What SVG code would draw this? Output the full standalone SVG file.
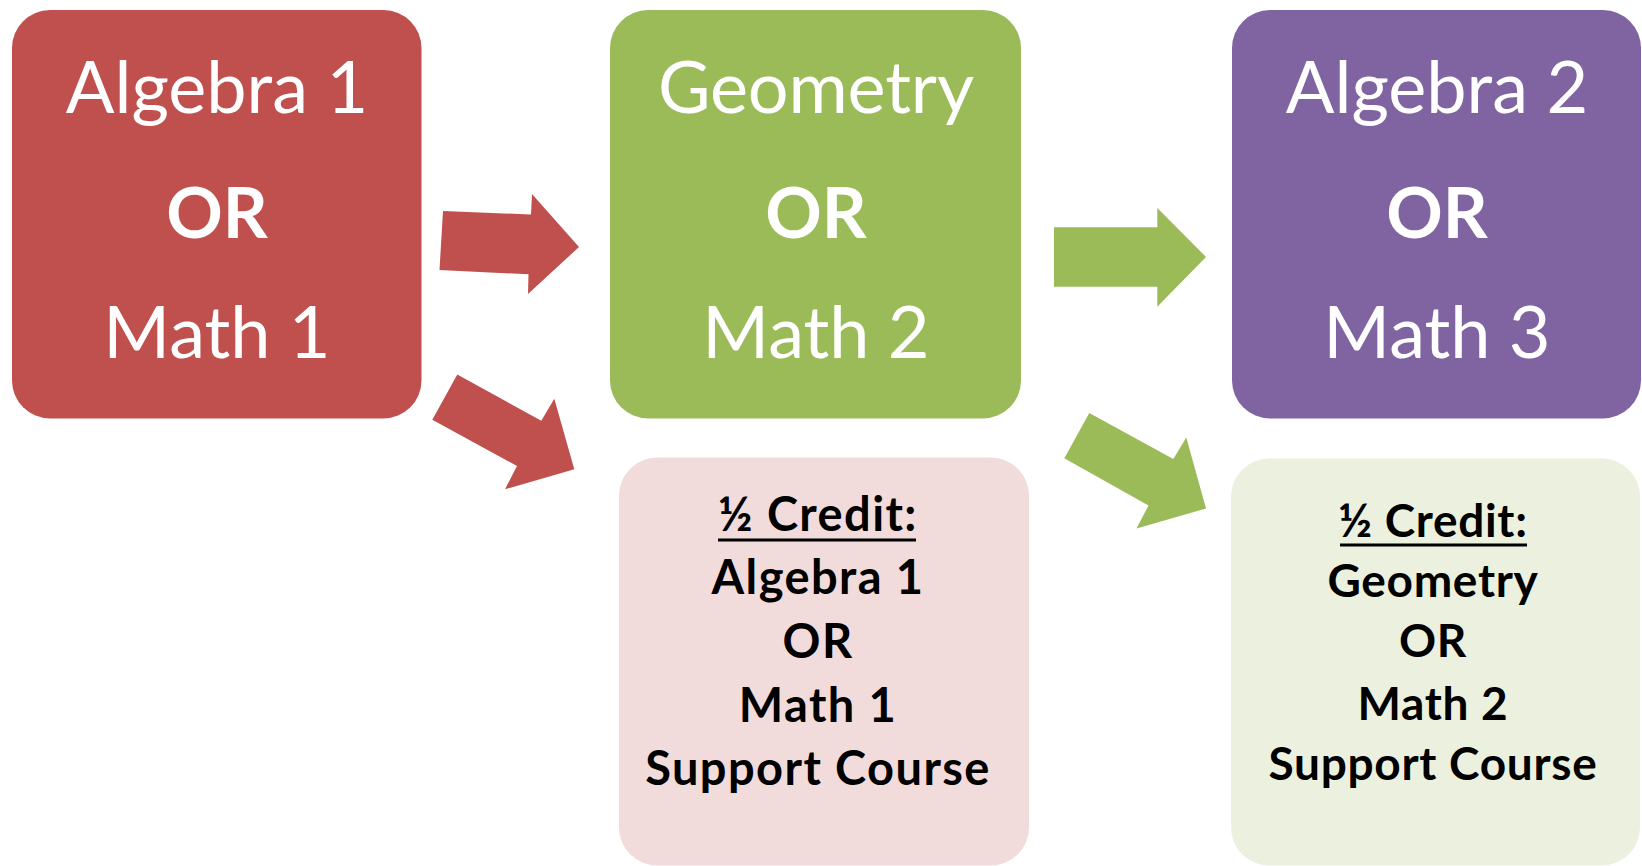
<svg xmlns="http://www.w3.org/2000/svg" width="1642" height="866" viewBox="0 0 1642 866">
<style>
.big{font-family:Lato,"Open Sans","Liberation Sans",sans-serif;font-size:72px;fill:#fff;text-anchor:middle}
.bigb{font-family:Lato,"Open Sans","Liberation Sans",sans-serif;font-size:70px;font-weight:bold;fill:#fff;text-anchor:middle}
.sm{font-family:Lato,"Open Sans","Liberation Sans",sans-serif;font-weight:bold;fill:#000;text-anchor:middle}
.p{font-size:47px;letter-spacing:1.4px}
.g{font-size:46px;letter-spacing:0.7px}
.ul{stroke:#000;stroke-width:3}
</style>
<rect width="1642" height="866" fill="#fff"/>
<g id="connectors">
<polygon fill="#C0504D" points="443,211 531,214.5 532,194 579,247 528,294 528.5,274.3 439.5,270"/>
<polygon fill="#C0504D" points="457.3,374.5 541.3,420.7 554.3,398.7 574.3,469.3 505,489.3 517,466 432.3,419.8"/>
<polygon fill="#9BBB59" points="1054,227.3 1157.3,227.3 1157.3,208 1206,257 1157.3,306.7 1157.3,286.7 1054,286.7"/>
<polygon fill="#9BBB59" points="1089.3,413 1173.3,459 1186.3,437.5 1206,508.5 1136.5,528.5 1148.5,505.5 1064.3,458.3"/>
</g>
<g id="algebra1">
<rect x="12" y="10" width="409.5" height="408.5" rx="38" fill="#C0504D"/>
<text class="big" x="217" y="113">Algebra 1</text>
<text class="bigb" x="217" y="238">OR</text>
<text class="big" x="217" y="358">Math 1</text>
</g>
<g id="geometry">
<rect x="610" y="10" width="411" height="408.5" rx="38" fill="#9BBB59"/>
<text class="big" x="816" y="113" textLength="316">Geometry</text>
<text class="bigb" x="816" y="238">OR</text>
<text class="big" x="816" y="358">Math 2</text>
</g>
<g id="algebra2">
<rect x="1232" y="10" width="409" height="408.5" rx="38" fill="#8064A2"/>
<text class="big" x="1437" y="113">Algebra 2</text>
<text class="bigb" x="1437" y="238">OR</text>
<text class="big" x="1437" y="358">Math 3</text>
</g>
<g id="support1">
<rect x="619" y="457.5" width="410" height="408" rx="38" fill="#F2DCDB"/>
<text class="sm p" x="818" y="531">½ Credit:</text>
<line class="ul" x1="718" y1="540" x2="916" y2="540"/>
<text class="sm p" x="818" y="594">Algebra 1</text>
<text class="sm p" x="818" y="658">OR</text>
<text class="sm p" x="818" y="722">Math 1</text>
<text class="sm p" x="818" y="785">Support Course</text>
</g>
<g id="support2">
<rect x="1231" y="458.5" width="409" height="407" rx="38" fill="#EBF1DE"/>
<text class="sm g" x="1433" y="537">½ Credit:</text>
<line class="ul" x1="1340" y1="545" x2="1527" y2="545"/>
<text class="sm g" x="1433" y="597">Geometry</text>
<text class="sm g" x="1433" y="657">OR</text>
<text class="sm g" x="1433" y="720">Math 2</text>
<text class="sm g" x="1433" y="780">Support Course</text>
</g>
</svg>
